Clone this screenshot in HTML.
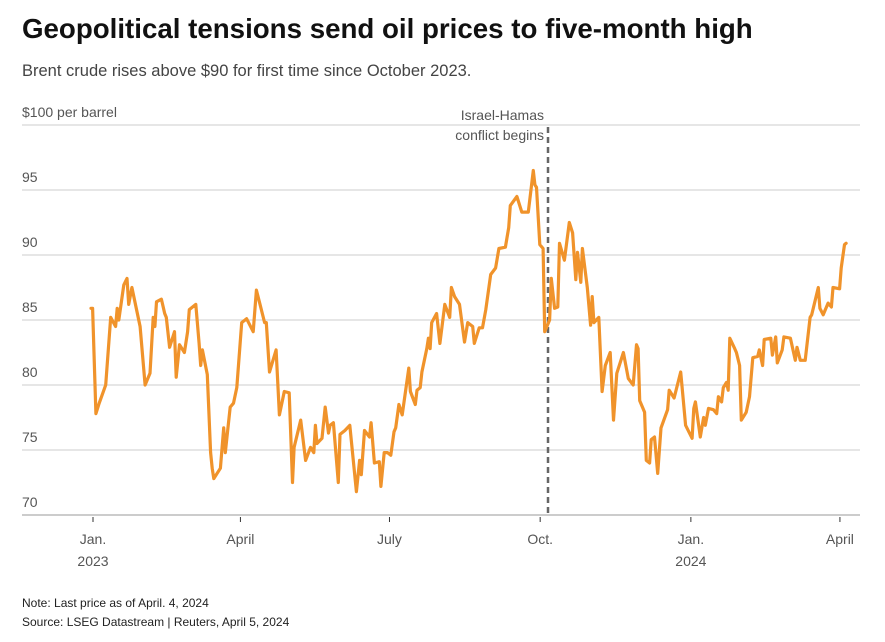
<!DOCTYPE html>
<html><head><meta charset="utf-8"><style>
body{margin:0;background:#fff;width:885px;height:637px;overflow:hidden;font-family:"Liberation Sans",sans-serif;}
svg text{font-family:"Liberation Sans",sans-serif;}
</style></head><body>
<svg id="chart" width="885" height="637" viewBox="0 0 885 637">
<text x="22" y="38" font-size="27.7" font-weight="bold" fill="#111">Geopolitical tensions send oil prices to five-month high</text>
<text x="22" y="76" font-size="16.5" fill="#444">Brent crude rises above $90 for first time since October 2023.</text>
<g id="grid"></g>
<g id="xaxis"></g>
<g id="annot"></g>
<g id="series"></g>
<text x="22" y="607" font-size="12" fill="#222">Note: Last price as of April. 4, 2024</text>
<text x="22" y="626" font-size="12" fill="#222">Source: LSEG Datastream | Reuters, April 5, 2024</text>
</svg>
<script>
const yTicks=[70,75,80,85,90,95,100];
const yTickLabels=["70","75","80","85","90","95","$100 per barrel"];
const xTickDays=[0,90,181,273,365,456];
const xTickLabels=[["Jan.","2023"],["April"],["July"],["Oct."],["Jan.","2024"],["April"]];
const eventDay=279;
const eventLabel=["Israel-Hamas","conflict begins"];
const days=[0,1,3,5,9,12,15,16,17,20,22,23,25,30,33,36,38,39,40,43,45,46,48,51,52,54,57,59,60,64,66,67,68,71,73,74,75,79,81,82,85,87,89,92,95,99,101,103,106,107,109,113,115,118,121,123,124,128,131,134,136,137,138,141,143,145,146,148,151,152,155,158,162,164,165,167,170,171,173,176,177,179,181,183,185,186,188,190,194,195,198,199,201,202,205,206,207,208,211,213,216,219,220,222,225,228,230,233,234,237,239,241,244,247,249,253,255,256,260,263,267,270,271,272,274,276,277,280,281,283,285,286,289,292,294,296,297,299,300,303,305,306,307,310,312,314,317,319,321,325,328,331,333,334,335,338,339,341,342,344,346,348,352,353,356,360,363,367,368,369,372,374,375,377,380,382,383,385,386,388,389,390,393,394,396,397,400,402,404,407,408,410,411,415,416,418,419,422,423,427,430,431,433,436,439,440,444,445,447,450,452,453,457,458,460,461];
const prices=[85.9,85.9,77.8,78.6,80.0,85.2,84.5,85.9,85.0,87.7,88.2,86.2,87.5,84.5,80.0,80.9,85.2,84.5,86.4,86.6,85.5,85.2,82.9,84.1,80.6,83.1,82.5,84.1,85.8,86.2,83.2,81.5,82.7,80.8,74.8,73.6,72.8,73.6,76.7,74.8,78.3,78.6,79.8,84.8,85.1,84.1,87.3,86.3,84.8,84.8,81.0,82.7,77.7,79.5,79.4,72.5,75.2,77.3,74.2,75.2,74.8,76.9,75.5,75.9,78.3,76.3,76.9,77.1,72.5,76.2,76.5,76.9,71.8,74.2,73.1,76.5,76.0,77.1,74.0,74.1,72.2,74.8,74.8,74.6,76.4,76.7,78.5,77.7,81.3,79.5,78.5,79.6,79.8,81.0,82.8,83.6,82.8,84.8,85.5,83.2,86.2,85.2,87.5,86.8,86.2,83.3,84.8,84.5,83.2,84.4,84.4,85.8,88.5,89.0,90.5,90.6,92.1,93.8,94.5,93.3,93.3,96.5,95.4,95.2,90.8,90.5,84.1,85.0,88.2,85.9,86.0,90.9,89.6,92.5,91.7,88.1,90.2,87.9,90.5,87.5,84.6,86.8,84.8,85.2,79.5,81.5,82.5,77.3,80.9,82.5,80.5,80.0,83.1,82.8,78.8,77.9,74.2,74.0,75.8,76.0,73.2,76.7,78.1,79.6,79.0,81.0,76.9,75.9,78.2,78.7,76.0,77.5,76.9,78.2,78.1,77.8,79.1,78.7,79.8,80.2,79.6,83.6,82.8,82.5,81.5,77.3,77.9,79.1,82.1,82.2,82.7,81.5,83.5,83.6,82.3,83.7,81.7,82.7,83.7,83.6,81.9,82.9,81.9,81.9,85.2,85.4,87.5,85.9,85.4,86.3,86.0,87.5,87.4,89.0,90.8,90.9];
const NS="http://www.w3.org/2000/svg";
function xS(d){return 91+d*1.638;}
function yS(v){return 515-(v-70)*13;}
function mk(t,a,p){const e=document.createElementNS(NS,t);for(const k in a)e.setAttribute(k,a[k]);p.appendChild(e);return e;}
const grid=document.getElementById('grid');
yTicks.forEach((v,i)=>{
  const l=mk('line',{x1:22,x2:860,y1:yS(v),y2:yS(v),stroke:i==0?'#999':'#ccc','stroke-width':1},grid);
  
  
  const t=mk('text',{x:22,y:yS(v)-8,'font-size':14,fill:'#555'},grid);
  t.textContent=yTickLabels[i];
  
  
});
const xa=document.getElementById('xaxis');
xTickDays.forEach((d,i)=>{
  const x=xS(d)+2;
  const tk=mk('line',{x1:x,x2:x,y1:517,y2:522,stroke:'#333','stroke-width':1},xa);
  
  
  xTickLabels[i].forEach((s,j)=>{
    const t=mk('text',{x:x,y:544+j*22,'font-size':14,fill:'#555','text-anchor':'middle'},xa);
    t.textContent=s;
    
    
  });
});
const an=document.getElementById('annot');
const ex=xS(eventDay);
const dl=mk('line',{x1:ex,x2:ex,y1:127,y2:515,stroke:'#666','stroke-width':2.5,'stroke-dasharray':'6,4'},an);


eventLabel.forEach((s,j)=>{
  const t=mk('text',{x:ex-4,y:120+j*20,'font-size':14,fill:'#555','text-anchor':'end'},an);
  t.textContent=s;
  
  
});
const sr=document.getElementById('series');
const pts=days.map((d,i)=>xS(d).toFixed(1)+','+yS(prices[i]).toFixed(1)).join(' ');
const pl=mk('polyline',{points:pts,fill:'none',stroke:'#f0932b','stroke-width':3.2,'stroke-linejoin':'round','stroke-linecap':'round'},sr);


</script>
</body></html>
